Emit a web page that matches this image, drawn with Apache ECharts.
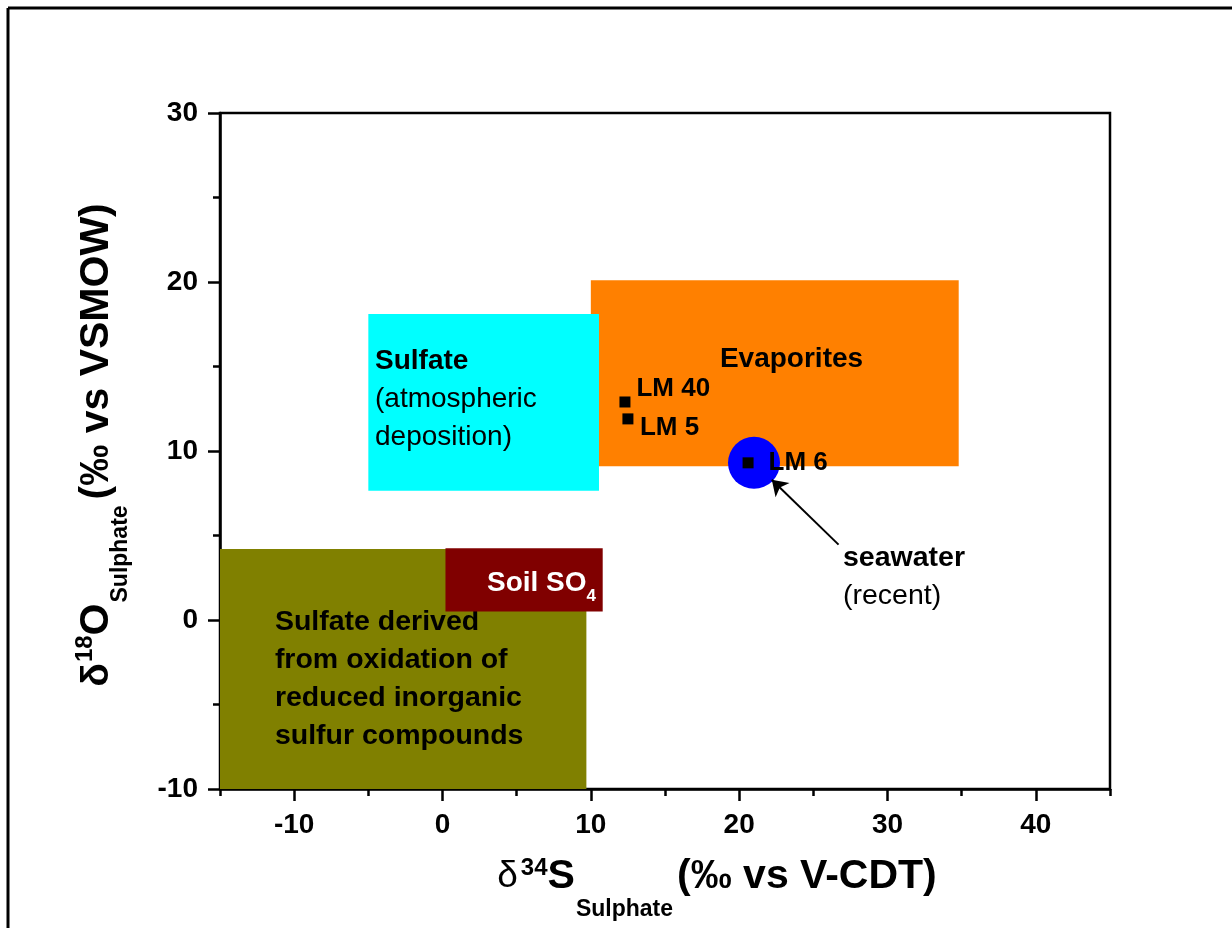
<!DOCTYPE html>
<html>
<head>
<meta charset="utf-8">
<script src="https://cdn.jsdelivr.net/npm/echarts@6/dist/echarts.min.js"></script>
<style>
  html, body { margin: 0; padding: 0; background: #fff; }
  #chart { width: 1232px; height: 928px; }
</style>
</head>
<body>
<div id="chart"></div>
<script>
const FONT = '"Liberation Sans", Arial, Helvetica, sans-serif';

// Axis ranges and tick values
const xRange = [-15, 45];
const yRange = [-10, 30];
const xMajorTicks = [-10, 0, 10, 20, 30, 40];
const xMinorTicks = [-15, -5, 5, 15, 25, 35, 45];

// Sulfate source fields: δ34S span, δ18O span
const fieldS = [[-15, 9.7], [0.2, 10.8], [10, 34.8], [-5, 10.55]];
const fieldO = [[-10, 4.2], [0.5, 4.25], [9.1, 20.1], [7.65, 18.1]];
const fieldColors = ['#808000', '#800000', '#FF8000', '#00FFFF'];

// Samples
const sampleNames = ['LM 40', 'LM 5', 'LM 6'];
const sampleS = [12.3, 12.5, 20.6];
const sampleO = [12.9, 11.9, 9.3];

// Recent seawater
const seawaterS = [21.0];
const seawaterO = [9.3];

// Arrow pointing at the seawater field
const arrowFrom = [26.7, 4.46];
const arrowTo = [22.2, 8.3];

// Field captions: anchor in data units, lines made of [text, weight, size, dy]
const fieldNotes = [
  { at: [-11.3, -0.1], align: 'left', color: '#000', lines: [
      [['Sulfate derived', 'bold', 28.5, 0]],
      [['from oxidation of', 'bold', 28.5, 0]],
      [['reduced inorganic', 'bold', 28.5, 0]],
      [['sulfur compounds', 'bold', 28.5, 0]] ] },
  { at: [3.0, 2.2], align: 'left', color: '#fff', lines: [
      [['Soil SO', 'bold', 28, 0], ['4', 'bold', 17, 13]] ] },
  { at: [23.53, 15.4], align: 'center', color: '#000', lines: [
      [['Evaporites', 'bold', 28, 0]] ] },
  { at: [-4.55, 15.28], align: 'left', color: '#000', lines: [
      [['Sulfate', 'bold', 28, 0]],
      [['(atmospheric', 'normal', 28, 0]],
      [['deposition)', 'normal', 28, 0]] ] }
];
const seawaterNote = { at: [27.0, 3.68], align: 'left', color: '#000', lines: [
  [['seawater', 'bold', 28.5, 0]],
  [['(recent)', 'normal', 28.5, 0]] ] };

const LINE_GAP = 38;
const labelOffsets = [[6, -13.5], [6.5, 9], [15, 0]];

const mctx = document.createElement('canvas').getContext('2d');
function textWidth(t, weight, size) {
  mctx.font = weight + ' ' + size + 'px ' + FONT;
  return mctx.measureText(t).width;
}

// Lay out segmented text lines starting at pixel p
function noteElements(note, p) {
  const out = [];
  note.lines.forEach((line, li) => {
    const widths = line.map(s => textWidth(s[0], s[1], s[2]));
    const total = widths.reduce((a, b) => a + b, 0);
    let x = note.align === 'center' ? p[0] - total / 2 : p[0];
    const y = p[1] + li * LINE_GAP;
    line.forEach((s, si) => {
      out.push({
        type: 'text',
        style: {
          text: s[0], x: x, y: y + s[3],
          font: s[1] + ' ' + s[2] + 'px ' + FONT,
          fill: note.color, align: 'left', verticalAlign: 'middle'
        }
      });
      x += widths[si];
    });
  });
  return out;
}

// Axis title built from pieces: [text, weight, size, dy, gapBefore]
function titleChildren(pieces) {
  const widths = pieces.map(p => textWidth(p[0], p[1], p[2]) + (p[4] || 0));
  const total = widths.reduce((a, b) => a + b, 0);
  let x = -total / 2;
  return pieces.map((p, i) => {
    const el = {
      type: 'text',
      style: {
        text: p[0], x: x + (p[4] || 0), y: p[3],
        font: p[1] + ' ' + p[2] + 'px ' + FONT,
        fill: '#000', align: 'left', verticalAlign: 'middle'
      }
    };
    x += widths[i];
    return el;
  });
}

const xTitle = titleChildren([
  ['δ', 'normal', 37, 0, 0],
  ['34', 'bold', 24, -8, 3],
  ['S', 'bold', 41, 0, 0],
  ['Sulphate', 'bold', 23, 33, 1],
  ['(‰ vs V-CDT)', 'bold', 41, 0, 4]
]);
const yTitle = titleChildren([
  ['δ', 'bold', 39, 0, 0],
  ['18', 'bold', 24, -12, 1],
  ['O', 'bold', 41, 0, 0],
  ['Sulphate', 'bold', 23, 24, 1],
  ['(‰ vs VSMOW)', 'bold', 41, 0, 6]
]);

const tickLabel = { color: '#000', fontFamily: FONT, fontWeight: 'bold', fontSize: 28, margin: 22 };

const chart = echarts.init(document.getElementById('chart'), null, { renderer: 'canvas' });
chart.setOption({
  animation: false,
  backgroundColor: '#fff',
  grid: {
    left: 220, top: 113, width: 890, height: 676,
    show: true, borderColor: '#000', borderWidth: 2.5, backgroundColor: 'transparent'
  },
  xAxis: [
    {
      type: 'value', min: xRange[0], max: xRange[1], position: 'bottom',
      axisLine: { onZero: false, lineStyle: { color: '#000', width: 2.5 } },
      axisTick: { show: true, customValues: xMajorTicks, length: 12, lineStyle: { color: '#000', width: 2.5 } },
      axisLabel: Object.assign({ customValues: xMajorTicks }, tickLabel),
      splitLine: { show: false }
    },
    {
      type: 'value', min: xRange[0], max: xRange[1], position: 'bottom',
      axisLine: { show: false, onZero: false },
      axisTick: { show: true, customValues: xMinorTicks, length: 7, lineStyle: { color: '#000', width: 2.5 } },
      axisLabel: { show: false },
      splitLine: { show: false }
    }
  ],
  yAxis: {
    type: 'value', min: yRange[0], max: yRange[1], interval: 10,
    axisLine: { show: true, onZero: false, lineStyle: { color: '#000', width: 2.5 } },
    axisTick: { show: true, length: 12, lineStyle: { color: '#000', width: 2.5 } },
    minorTick: { show: true, splitNumber: 2, length: 7, lineStyle: { color: '#000', width: 2.5 } },
    axisLabel: tickLabel,
    splitLine: { show: false }
  },
  graphic: [
    { type: 'line', shape: { x1: 8, y1: 8, x2: 1232, y2: 8 }, style: { stroke: '#000', lineWidth: 3 } },
    { type: 'line', shape: { x1: 8, y1: 8, x2: 8, y2: 928 }, style: { stroke: '#000', lineWidth: 3 } },
    { type: 'group', x: 717, y: 876.5, children: xTitle },
    { type: 'group', x: 97, y: 445, rotation: Math.PI / 2, children: yTitle }
  ],
  series: [
    {
      type: 'custom',
      name: 'fields',
      coordinateSystem: 'cartesian2d',
      xAxisIndex: 0,
      clip: false,
      encode: { x: [0, 1], y: [2, 3] },
      data: fieldS.map((s, i) => [s[0], s[1], fieldO[i][0], fieldO[i][1]]),
      renderItem: function (params, api) {
        const i = params.dataIndex;
        const tl = api.coord([api.value(0), api.value(3)]);
        const br = api.coord([api.value(1), api.value(2)]);
        const children = [{
          type: 'rect',
          shape: { x: tl[0], y: tl[1], width: br[0] - tl[0], height: br[1] - tl[1] },
          style: { fill: fieldColors[i] }
        }];
        return { type: 'group', children: children.concat(noteElements(fieldNotes[i], api.coord(fieldNotes[i].at))) };
      },
      z: 1
    },
    {
      type: 'custom',
      name: 'seawater note',
      coordinateSystem: 'cartesian2d',
      xAxisIndex: 0,
      encode: { x: 0, y: 1 },
      data: [seawaterNote.at],
      renderItem: function (params, api) {
        return { type: 'group', children: noteElements(seawaterNote, api.coord([api.value(0), api.value(1)])) };
      },
      z: 2
    },
    {
      type: 'scatter',
      name: 'seawater',
      xAxisIndex: 0,
      symbol: 'circle',
      symbolSize: 52,
      itemStyle: { color: '#0000FF', opacity: 1 },
      data: seawaterS.map((s, i) => [s, seawaterO[i]]),
      z: 3
    },
    {
      type: 'lines',
      coordinateSystem: 'cartesian2d',
      xAxisIndex: 0,
      symbol: ['none', 'arrow'],
      symbolSize: [0, 15],
      lineStyle: { color: '#000', width: 2, opacity: 1 },
      data: [{ coords: [arrowFrom, arrowTo] }],
      z: 4
    },
    {
      type: 'scatter',
      name: 'samples',
      xAxisIndex: 0,
      symbol: 'rect',
      symbolSize: 11,
      itemStyle: { color: '#000', opacity: 1 },
      data: sampleNames.map((n, i) => ({
        name: n,
        value: [sampleS[i], sampleO[i]],
        label: {
          show: true, position: 'right', distance: labelOffsets[i][0],
          offset: [0, labelOffsets[i][1]],
          formatter: n, color: '#000', fontFamily: FONT, fontWeight: 'bold', fontSize: 26,
          textBorderWidth: 0
        }
      })),
      z: 5
    }
  ]
});
</script>
</body>
</html>
